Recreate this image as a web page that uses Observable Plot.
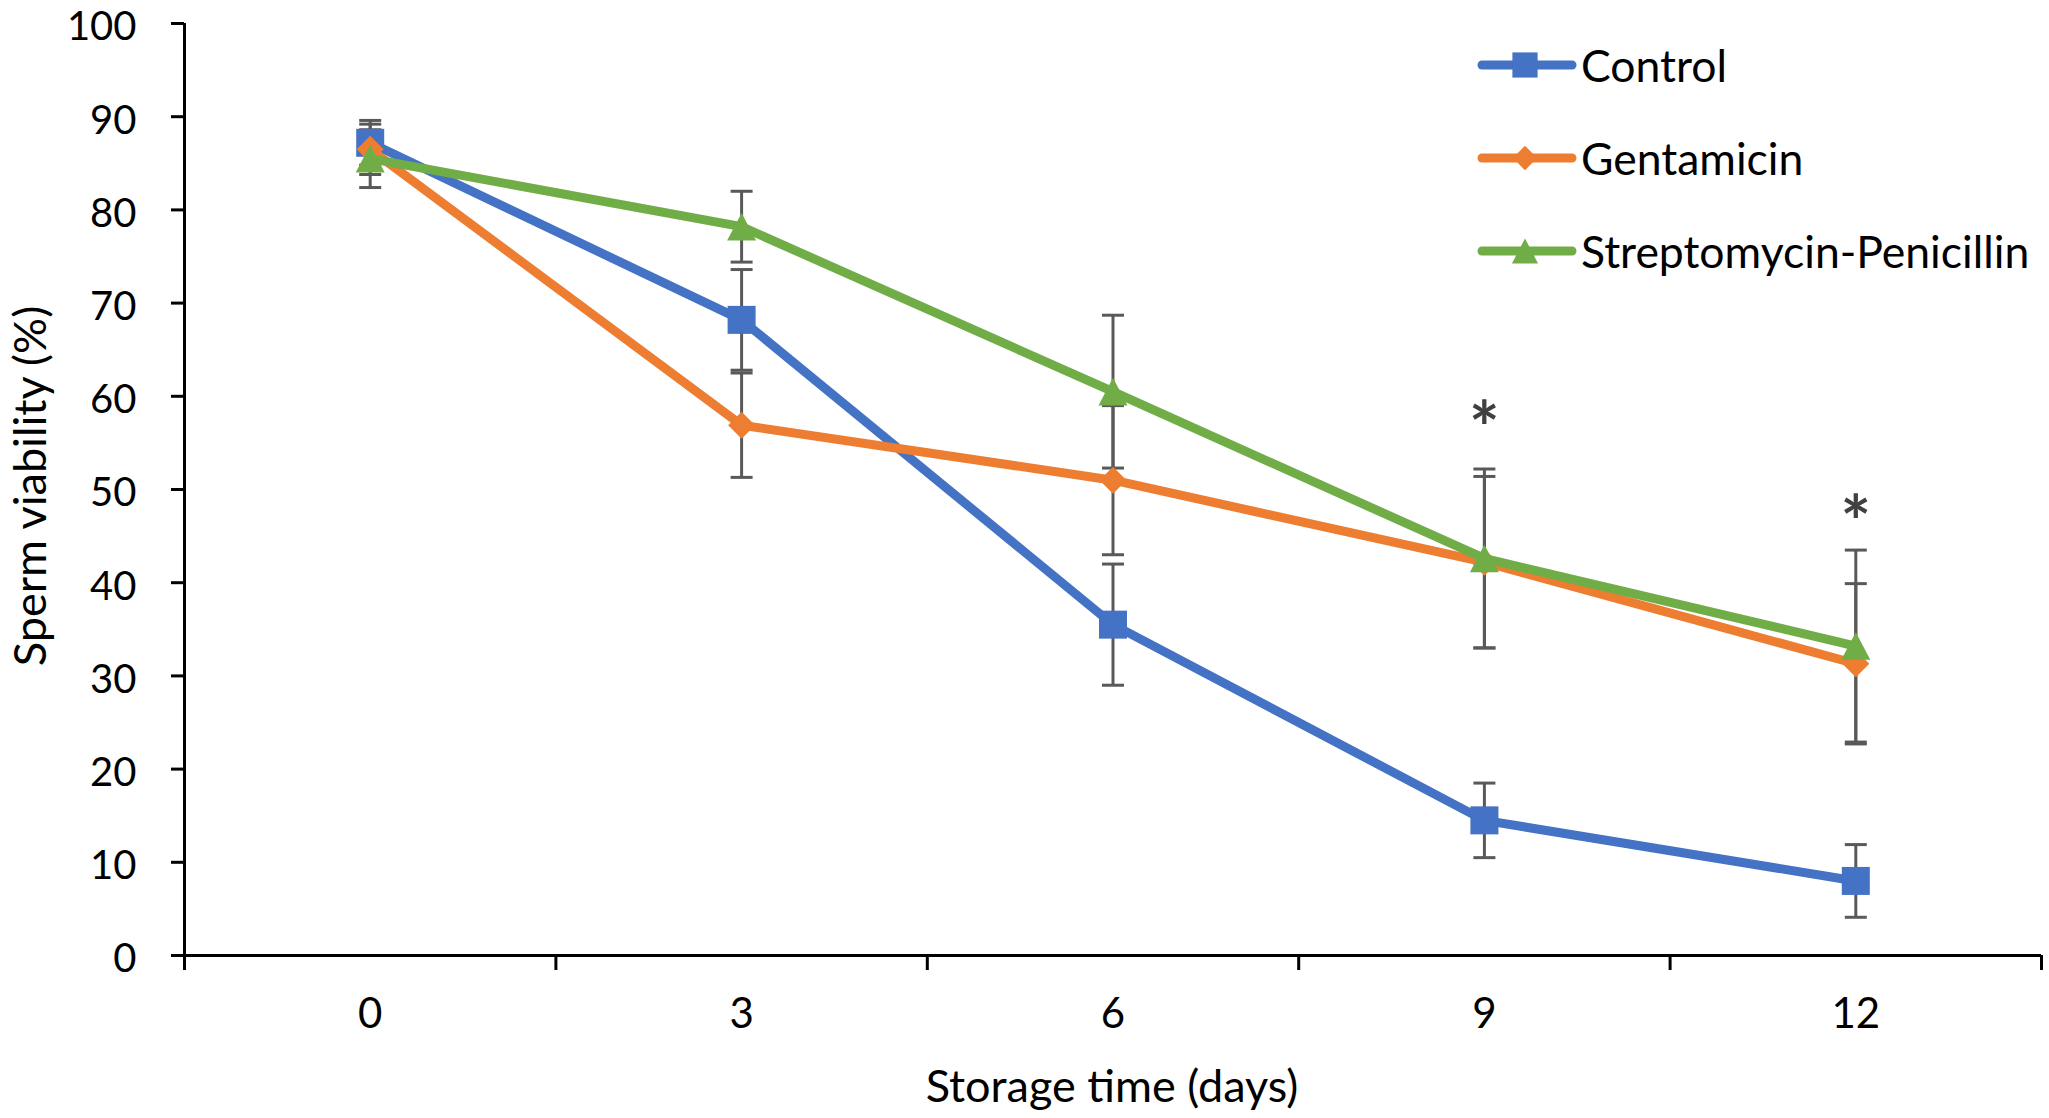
<!DOCTYPE html>
<html>
<head>
<meta charset="utf-8">
<script src="https://cdn.jsdelivr.net/npm/d3@7"></script>
<script src="https://cdn.jsdelivr.net/npm/@observablehq/plot@0.6"></script>
<style>
  html, body { margin: 0; padding: 0; background: #fff; }
  #wrap { position: relative; width: 2049px; height: 1118px; font-family: Lato, "Open Sans", sans-serif; color: #000; }
  #chart { position: absolute; left: 0; top: 0; }
  .title { position: absolute; font-size: 45px; white-space: nowrap; }
  #legend { position: absolute; left: 1477px; top: 18px; font-size: 44.5px; }
  .lrow { display: flex; align-items: center; height: 93px; }
  .lrow svg { margin-right: 4px; }
</style>
</head>
<body>
<div id="wrap">
  <div id="chart"></div>
  <div class="title" id="ytitle">Sperm viability (%)</div>
  <div class="title" id="xtitle">Storage time (days)</div>
  <div id="legend"></div>
</div>
<script>
// ---- data ----
const days = [0, 3, 6, 9, 12];
const seriesNames = ["Control", "Gentamicin", "Streptomycin-Penicillin"];
const seriesColors = ["#4472C4", "#ED7D31", "#70AD47"];
const seriesSymbols = ["square", "diamond", "triangle"];
const controlMean = [87.2, 68.2, 35.5, 14.5, 8.0];
const controlErr  = [2.4, 5.4, 6.5, 4.0, 3.9];
const gentMean    = [86.5, 56.9, 51.0, 42.2, 31.3];
const gentErr     = [2.7, 5.6, 8.0, 9.2, 8.6];
const strepMean   = [85.5, 78.2, 60.5, 42.6, 33.2];
const strepErr    = [3.1, 3.8, 8.2, 9.6, 10.3];
const yTicks = [0, 10, 20, 30, 40, 50, 60, 70, 80, 90, 100];
const starDays = [9, 12];
const starY = [57.9, 47.8];
const starText = ["*", "*"];

const means = [controlMean, gentMean, strepMean];
const errs = [controlErr, gentErr, strepErr];

// category spacing: each storage day occupies a band of 3 days
const step = 3;
const bounds = [...days.map(d => d - step / 2), days[days.length - 1] + step / 2];

// ---- symbols ----
const symSquare = { draw(ctx, size) { const w = Math.sqrt(size); ctx.rect(-w / 2, -w / 2, w, w); } };
const symDiamond = { draw(ctx, size) { const r = Math.sqrt(size) / 2; ctx.moveTo(0, -r); ctx.lineTo(r, 0); ctx.lineTo(0, r); ctx.lineTo(-r, 0); ctx.closePath(); } };
const symTriangle = { draw(ctx, size) { const w = Math.sqrt(size); const h = w * 0.95; ctx.moveTo(0, -h / 2); ctx.lineTo(w / 2, h / 2); ctx.lineTo(-w / 2, h / 2); ctx.closePath(); } };
const symCap = { draw(ctx, size) { const w = Math.sqrt(size); ctx.moveTo(-w / 2, 0); ctx.lineTo(w / 2, 0); } };
const symMap = { square: symSquare, diamond: symDiamond, triangle: symTriangle };
const symR = { square: 28 / Math.sqrt(Math.PI), diamond: 27 / Math.sqrt(Math.PI), triangle: 29 / Math.sqrt(Math.PI) };

const rows = seriesNames.flatMap((s, i) => days.map((d, j) => ({ series: s, idx: i, day: d, mean: means[i][j], err: errs[i][j] })));
const stars = starDays.map((d, i) => ({ day: d, y: starY[i], t: starText[i] }));

const marks = [
  // error bars
  Plot.ruleX(rows, { x: "day", y1: d => d.mean - d.err, y2: d => d.mean + d.err, stroke: "#595959", strokeWidth: 3 }),
  Plot.dot(rows, { x: "day", y: d => d.mean + d.err, symbol: symCap, r: 22 / Math.sqrt(Math.PI), stroke: "#595959", strokeWidth: 3, fill: "none" }),
  Plot.dot(rows, { x: "day", y: d => d.mean - d.err, symbol: symCap, r: 22 / Math.sqrt(Math.PI), stroke: "#595959", strokeWidth: 3, fill: "none" }),
];
seriesNames.forEach((s, i) => {
  const data = rows.filter(r => r.idx === i);
  marks.push(Plot.line(data, { x: "day", y: "mean", stroke: seriesColors[i], strokeWidth: 9, strokeLinejoin: "round", strokeLinecap: "round" }));
  marks.push(Plot.dot(data, { x: "day", y: "mean", symbol: symMap[seriesSymbols[i]], r: symR[seriesSymbols[i]], fill: seriesColors[i], stroke: "none" }));
});
marks.push(
  Plot.text(stars, { x: "day", y: "y", text: "t", fontSize: 72, fontWeight: "bold", fill: "#404040", dy: 16 }),
  // axes: tick marks and labels drawn separately
  Plot.axisY({ ticks: yTicks, tickSize: 13, tickFormat: () => "", strokeWidth: 3, label: null }),
  Plot.axisY({ ticks: yTicks, tickSize: 0, tickPadding: 48, fontSize: 40, dy: 4, label: null, color: "#000" }),
  Plot.axisX({ ticks: bounds, tickSize: 15, tickFormat: () => "", strokeWidth: 3, label: null }),
  Plot.axisX({ ticks: days, tickSize: 0, tickPadding: 43, fontSize: 42, label: null }),
  Plot.ruleX([bounds[0]], { stroke: "#000", strokeWidth: 3 }),
  Plot.ruleY([0], { stroke: "#000", strokeWidth: 3 })
);

const chart = Plot.plot({
  width: 2049,
  height: 1118,
  marginLeft: 184,
  marginRight: 8,
  marginTop: 23,
  marginBottom: 163,
  style: { fontFamily: "Lato, 'Open Sans', sans-serif", background: "#fff", color: "#000", overflow: "visible" },
  x: { domain: [bounds[0], bounds[bounds.length - 1]] },
  y: { domain: [0, 100] },
  marks
});
document.getElementById("chart").appendChild(chart);

// axis titles
const yt = document.getElementById("ytitle");
yt.style.left = "29px"; yt.style.top = "486px";
yt.style.transform = "translate(-50%, -50%) rotate(-90deg)";
const xt = document.getElementById("xtitle");
xt.style.left = "1112px"; xt.style.top = "1085px";
xt.style.transform = "translate(-50%, -50%)";

// legend
const legend = document.getElementById("legend");
seriesNames.forEach((s, i) => {
  const row = document.createElement("div");
  row.className = "lrow";
  const svg = d3.create("svg").attr("width", 100).attr("height", 34);
  svg.append("line").attr("x1", 5).attr("x2", 95).attr("y1", 17).attr("y2", 17)
    .attr("stroke", seriesColors[i]).attr("stroke-width", 9).attr("stroke-linecap", "round");
  const sym = symMap[seriesSymbols[i]];
  const r = symR[seriesSymbols[i]] * 0.9;
  svg.append("path").attr("transform", "translate(48,17)")
    .attr("d", d3.symbol(sym, Math.PI * r * r)()).attr("fill", seriesColors[i]);
  row.appendChild(svg.node());
  const t = document.createElement("span");
  t.textContent = s;
  row.appendChild(t);
  legend.appendChild(row);
});
</script>
</body>
</html>
